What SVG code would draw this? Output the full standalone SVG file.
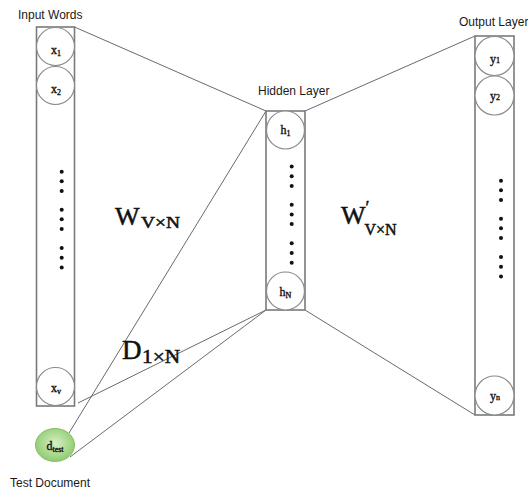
<svg xmlns="http://www.w3.org/2000/svg" width="528" height="497" viewBox="0 0 528 497">
<style>
.col{fill:none;stroke:#7a7a7a;stroke-width:1.6}
.nd{fill:#fff;stroke:#8a8a8a;stroke-width:1.2}
.lbl{font-family:"Liberation Serif","Times New Roman",serif;font-size:12px;fill:#111;stroke:#111;stroke-width:0.35;text-anchor:middle}
.sub{font-size:8px}
.cap{font-family:"Liberation Sans",Arial,sans-serif;font-size:12px;fill:#1a1a1a}
.mat{font-family:"Liberation Serif","Times New Roman",serif;fill:#111;stroke:#111;stroke-width:0.5}
.dot{fill:#111}
.cn line{stroke:#6a6a6a;stroke-width:1}
</style>
<defs>
<radialGradient id="g" cx="50%" cy="45%" r="55%">
<stop offset="0" stop-color="#d6f0c6"/>
<stop offset="1" stop-color="#8fcb6e"/>
</radialGradient>
</defs>
<rect width="528" height="497" fill="#fff"/>

<g id="connectors" class="cn">
<line x1="74.5" y1="27" x2="266" y2="111"/>
<line x1="305" y1="111" x2="475" y2="36"/>
<line x1="305" y1="310" x2="475" y2="415"/>
<line x1="266" y1="111" x2="69" y2="433"/>
<line x1="266" y1="310" x2="78" y2="403"/>
<line x1="266" y1="310" x2="70" y2="457"/>
</g>

<g id="input-layer">
<rect class="col" x="36.5" y="27" width="38" height="379"/>
<text class="cap" x="18" y="19">Input Words</text>
<g id="x1"><circle class="nd" cx="55.5" cy="46.5" r="19"/><text class="lbl" x="56" y="54">x<tspan class="sub" dy="2">1</tspan></text></g>
<g id="x2"><circle class="nd" cx="55.5" cy="85.5" r="19"/><text class="lbl" x="56" y="93">x<tspan class="sub" dy="2">2</tspan></text></g>
<g id="xv"><circle class="nd" cx="55.5" cy="386.5" r="19"/><text class="lbl" x="56" y="392">x<tspan class="sub" dy="2">v</tspan></text></g>
<g class="dot">
<circle cx="61.7" cy="171.7" r="2"/><circle cx="61.7" cy="181.3" r="2"/><circle cx="61.7" cy="191" r="2"/>
<circle cx="61.7" cy="209.7" r="2"/><circle cx="61.7" cy="219.3" r="2"/><circle cx="61.7" cy="229" r="2"/>
<circle cx="61.7" cy="248" r="2"/><circle cx="61.7" cy="257.7" r="2"/><circle cx="61.7" cy="267.5" r="2"/>
</g>
</g>

<g id="hidden-layer">
<rect class="col" x="266" y="111" width="39" height="199"/>
<text class="cap" x="258" y="95">Hidden Layer</text>
<g id="h1"><circle class="nd" cx="285.5" cy="130" r="19"/><text class="lbl" x="285.5" y="134">h<tspan class="sub" dy="2">1</tspan></text></g>
<g id="hN"><circle class="nd" cx="285.5" cy="291" r="19"/><text class="lbl" x="285.5" y="296">h<tspan class="sub" dy="2">N</tspan></text></g>
<g class="dot">
<circle cx="291.7" cy="166.5" r="2"/><circle cx="291.7" cy="176.3" r="2"/><circle cx="291.7" cy="186" r="2"/>
<circle cx="291.7" cy="204.7" r="2"/><circle cx="291.7" cy="214.4" r="2"/><circle cx="291.7" cy="224" r="2"/>
<circle cx="291.7" cy="243.3" r="2"/><circle cx="291.7" cy="253" r="2"/><circle cx="291.7" cy="262.7" r="2"/>
</g>
</g>

<g id="output-layer">
<rect class="col" x="475" y="36" width="39" height="379"/>
<text class="cap" x="459" y="26" font-size="11.5">Output Layer</text>
<g id="y1"><circle class="nd" cx="494.5" cy="56" r="19.5"/><text class="lbl" x="495" y="63">y<tspan class="sub">1</tspan></text></g>
<g id="y2"><circle class="nd" cx="494.5" cy="95.5" r="19.5"/><text class="lbl" x="495" y="100">y<tspan class="sub">2</tspan></text></g>
<g id="yn"><circle class="nd" cx="494.5" cy="395.5" r="19.5"/><text class="lbl" x="495" y="400">y<tspan class="sub">n</tspan></text></g>
<g class="dot">
<circle cx="501" cy="180.7" r="2"/><circle cx="501" cy="190.3" r="2"/><circle cx="501" cy="200" r="2"/>
<circle cx="501" cy="218.7" r="2"/><circle cx="501" cy="228.3" r="2"/><circle cx="501" cy="238" r="2"/>
<circle cx="501" cy="257" r="2"/><circle cx="501" cy="266.7" r="2"/><circle cx="501" cy="276.5" r="2"/>
</g>
</g>

<g id="test-document">
<ellipse cx="55" cy="445" rx="19.5" ry="16.5" fill="url(#g)" stroke="#86bf68" stroke-width="1"/>
<text class="lbl" x="55" y="450" font-size="13">d<tspan class="sub" dy="2">test</tspan></text>
<text class="cap" x="10" y="487">Test Document</text>
</g>

<g id="weight-labels">
<text class="mat" x="115" y="225" font-size="26">W</text>
<text class="mat" x="141" y="228" font-size="16" textLength="39" lengthAdjust="spacingAndGlyphs">V×N</text>
<text class="mat" x="341" y="224" font-size="26">W<tspan font-size="18" dx="0" dy="-10">′</tspan><tspan font-size="16" dx="-5" dy="21">V×N</tspan></text>
<text class="mat" x="122" y="359" font-size="27">D</text>
<text class="mat" x="142" y="363" font-size="18" textLength="38" lengthAdjust="spacingAndGlyphs">1×N</text>
</g>
</svg>
